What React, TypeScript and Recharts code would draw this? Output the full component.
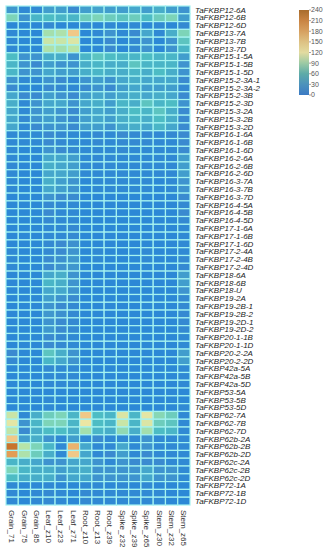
import { Scatter, ScatterChart, XAxis, YAxis } from "recharts";

const genes = [
  "TaFKBP12-6A", "TaFKBP12-6B", "TaFKBP12-6D", "TaFKBP13-7A", "TaFKBP13-7B", "TaFKBP13-7D",
  "TaFKBP15-1-5A", "TaFKBP15-1-5B", "TaFKBP15-1-5D", "TaFKBP15-2-3A-1", "TaFKBP15-2-3A-2",
  "TaFKBP15-2-3B", "TaFKBP15-2-3D", "TaFKBP15-3-2A", "TaFKBP15-3-2B", "TaFKBP15-3-2D",
  "TaFKBP16-1-6A", "TaFKBP16-1-6B", "TaFKBP16-1-6D", "TaFKBP16-2-6A", "TaFKBP16-2-6B",
  "TaFKBP16-2-6D", "TaFKBP16-3-7A", "TaFKBP16-3-7B", "TaFKBP16-3-7D", "TaFKBP16-4-5A",
  "TaFKBP16-4-5B", "TaFKBP16-4-5D", "TaFKBP17-1-6A", "TaFKBP17-1-6B", "TaFKBP17-1-6D",
  "TaFKBP17-2-4A", "TaFKBP17-2-4B", "TaFKBP17-2-4D", "TaFKBP18-6A", "TaFKBP18-6B", "TaFKBP18-U",
  "TaFKBP19-2A", "TaFKBP19-2B-1", "TaFKBP19-2B-2", "TaFKBP19-2D-1", "TaFKBP19-2D-2",
  "TaFKBP20-1-1B", "TaFKBP20-1-1D", "TaFKBP20-2-2A", "TaFKBP20-2-2D", "TaFKBP42a-5A",
  "TaFKBP42a-5B", "TaFKBP42a-5D", "TaFKBP53-5A", "TaFKBP53-5B", "TaFKBP53-5D", "TaFKBP62-7A",
  "TaFKBP62-7B", "TaFKBP62-7D", "TaFKBP62b-2A", "TaFKBP62b-2B", "TaFKBP62b-2D", "TaFKBP62c-2A",
  "TaFKBP62c-2B", "TaFKBP62c-2D", "TaFKBP72-1A", "TaFKBP72-1B", "TaFKBP72-1D",
];

const tissues = [
  "Grain_71", "Grain_75", "Grain_85", "Leaf_z10", "Leaf_z23", "Leaf_z71", "Root_z10", "Root_z13",
  "Root_z39", "Spike_z32", "Spike_z39", "Spike_z65", "Stem_z30", "Stem_z32", "Stem_z65",
];

// one line per gene, columns in the order of tissues
const expression = [
  [22, 10, 10, 25, 25, 15, 25, 28, 25, 25, 30, 25, 35, 25, 20],
  [60, 20, 40, 45, 40, 40, 55, 60, 55, 50, 55, 45, 55, 60, 25],
  [8, 8, 8, 12, 8, 8, 10, 8, 10, 8, 10, 8, 10, 8, 12],
  [10, 8, 8, 80, 85, 150, 8, 10, 20, 10, 15, 30, 10, 35, 60],
  [10, 8, 8, 100, 100, 110, 8, 8, 15, 8, 12, 20, 8, 20, 50],
  [10, 8, 8, 85, 80, 90, 8, 8, 15, 8, 12, 20, 8, 20, 40],
  [45, 20, 20, 35, 35, 20, 40, 50, 45, 40, 40, 45, 40, 40, 25],
  [40, 20, 15, 25, 20, 20, 35, 40, 35, 35, 50, 40, 40, 40, 20],
  [40, 20, 20, 30, 25, 25, 35, 40, 35, 35, 40, 35, 45, 35, 20],
  [20, 10, 10, 20, 15, 10, 20, 25, 20, 30, 35, 30, 30, 30, 15],
  [15, 8, 8, 15, 12, 10, 15, 20, 15, 25, 30, 25, 25, 25, 12],
  [30, 15, 15, 25, 20, 15, 25, 30, 25, 30, 35, 30, 35, 30, 15],
  [35, 10, 20, 30, 30, 20, 30, 35, 25, 40, 35, 50, 40, 45, 20],
  [30, 10, 20, 25, 20, 15, 25, 30, 25, 35, 45, 40, 50, 35, 15],
  [30, 12, 20, 25, 20, 15, 25, 30, 25, 35, 40, 35, 45, 35, 15],
  [30, 10, 15, 20, 20, 15, 25, 25, 20, 30, 35, 30, 40, 30, 15],
  [10, 10, 10, 15, 12, 10, 10, 12, 10, 15, 12, 12, 10, 12, 15],
  [10, 10, 10, 15, 12, 10, 10, 12, 10, 12, 12, 12, 10, 10, 15],
  [10, 8, 8, 20, 15, 12, 10, 10, 10, 12, 10, 10, 10, 10, 15],
  [10, 8, 8, 30, 30, 25, 10, 10, 10, 10, 10, 10, 10, 10, 25],
  [10, 8, 8, 35, 30, 25, 10, 10, 10, 10, 10, 10, 10, 10, 25],
  [10, 8, 8, 30, 30, 25, 10, 10, 10, 10, 10, 10, 10, 10, 25],
  [10, 8, 8, 35, 25, 20, 8, 10, 10, 10, 10, 10, 8, 10, 20],
  [10, 8, 8, 30, 25, 20, 8, 10, 10, 10, 10, 10, 8, 10, 20],
  [8, 8, 8, 20, 15, 15, 8, 8, 8, 8, 8, 8, 8, 8, 15],
  [8, 8, 8, 12, 10, 10, 8, 8, 8, 8, 8, 8, 8, 8, 12],
  [8, 8, 8, 15, 10, 10, 8, 8, 8, 8, 8, 8, 8, 8, 15],
  [8, 8, 8, 12, 10, 10, 8, 8, 8, 8, 8, 8, 8, 8, 12],
  [8, 8, 8, 10, 10, 12, 8, 8, 8, 8, 8, 8, 8, 8, 10],
  [8, 8, 8, 10, 10, 12, 8, 8, 8, 8, 8, 8, 8, 8, 10],
  [8, 8, 8, 12, 15, 18, 8, 8, 8, 8, 8, 8, 8, 8, 10],
  [10, 8, 8, 12, 15, 20, 8, 10, 8, 8, 8, 10, 8, 8, 10],
  [10, 8, 8, 15, 18, 22, 8, 10, 8, 8, 8, 10, 8, 8, 12],
  [10, 8, 8, 15, 20, 22, 8, 8, 8, 8, 8, 8, 8, 8, 12],
  [8, 8, 8, 30, 35, 20, 8, 8, 8, 8, 8, 8, 8, 8, 25],
  [8, 8, 8, 40, 35, 20, 8, 8, 8, 8, 8, 8, 8, 8, 25],
  [8, 8, 8, 30, 30, 20, 8, 8, 8, 8, 8, 8, 8, 8, 20],
  [8, 8, 8, 25, 20, 15, 8, 8, 8, 8, 8, 8, 8, 8, 12],
  [8, 8, 8, 20, 15, 12, 8, 8, 8, 8, 8, 8, 8, 8, 12],
  [8, 8, 8, 22, 18, 12, 8, 8, 8, 8, 8, 8, 8, 8, 12],
  [8, 8, 8, 20, 15, 12, 8, 8, 8, 8, 8, 8, 8, 8, 12],
  [8, 8, 8, 22, 15, 12, 8, 8, 8, 8, 8, 8, 8, 8, 12],
  [8, 8, 8, 15, 12, 10, 8, 8, 8, 8, 8, 8, 8, 8, 10],
  [8, 8, 8, 15, 12, 10, 8, 8, 8, 8, 8, 8, 8, 8, 10],
  [15, 8, 8, 50, 35, 20, 8, 8, 8, 8, 8, 8, 8, 8, 25],
  [12, 8, 8, 40, 30, 20, 8, 8, 8, 8, 8, 8, 8, 8, 25],
  [8, 8, 8, 12, 10, 10, 8, 8, 8, 8, 8, 8, 8, 8, 10],
  [8, 8, 8, 10, 10, 10, 8, 8, 8, 8, 8, 8, 8, 8, 10],
  [8, 8, 8, 10, 10, 10, 8, 8, 8, 8, 8, 8, 8, 8, 10],
  [8, 8, 8, 8, 8, 8, 8, 8, 8, 8, 8, 8, 8, 8, 8],
  [8, 8, 8, 10, 8, 8, 8, 8, 8, 8, 8, 8, 8, 8, 8],
  [8, 8, 8, 10, 8, 8, 8, 8, 8, 8, 8, 8, 8, 8, 10],
  [100, 10, 35, 55, 60, 40, 150, 45, 40, 110, 40, 115, 65, 55, 10],
  [115, 20, 40, 60, 60, 40, 120, 45, 40, 100, 40, 110, 55, 50, 10],
  [95, 15, 35, 45, 45, 35, 80, 40, 35, 70, 35, 80, 45, 40, 10],
  [150, 25, 35, 20, 10, 25, 10, 15, 10, 10, 10, 20, 10, 10, 10],
  [230, 90, 60, 40, 10, 170, 30, 10, 10, 30, 10, 20, 10, 10, 10],
  [190, 85, 55, 35, 10, 150, 30, 10, 15, 25, 10, 15, 10, 10, 10],
  [40, 35, 30, 20, 20, 30, 30, 20, 10, 20, 15, 15, 15, 10, 10],
  [60, 40, 35, 35, 25, 30, 35, 20, 20, 20, 20, 30, 20, 20, 10],
  [45, 35, 35, 35, 20, 30, 30, 20, 20, 20, 20, 30, 20, 20, 10],
  [10, 8, 8, 10, 8, 8, 10, 10, 8, 10, 8, 10, 8, 8, 8],
  [10, 8, 10, 12, 10, 8, 12, 10, 10, 10, 10, 10, 10, 8, 8],
  [10, 8, 10, 12, 10, 8, 12, 10, 10, 10, 10, 10, 10, 8, 8],
];

const legendTicks = [0, 30, 60, 90, 120, 150, 180, 210, 240];

const W = 327;
const H = 550;
const TOP = 6;
const LEFT = 6;
const PLOT_W = 184;
const PLOT_H = 499;
const Y_AXIS_W = W - LEFT - PLOT_W;
const X_AXIS_H = H - TOP - PLOT_H;
const CELL_W = PLOT_W / tissues.length;
const CELL_H = PLOT_H / genes.length;

const cellStops: [number, string][] = [
  [0, "#1c86dc"],
  [15, "#3a8ad0"],
  [30, "#45a6cc"],
  [45, "#4dbcc4"],
  [60, "#7dd4b8"],
  [90, "#b8e4a8"],
  [120, "#ece6a4"],
  [150, "#f0c888"],
  [180, "#e8a860"],
  [210, "#d88840"],
  [240, "#c06a24"],
];

const barStops: [number, string][] = [
  [0, "#3b7ac4"],
  [30, "#4c92bc"],
  [60, "#5eaba8"],
  [90, "#9ccaa4"],
  [120, "#e2dba0"],
  [150, "#ddc183"],
  [180, "#d6a060"],
  [210, "#c98443"],
  [240, "#a86c2c"],
];

function hex(c: string) {
  return [1, 3, 5].map((i) => parseInt(c.slice(i, i + 2), 16));
}

function colorFor(v: number) {
  for (let i = 1; i < cellStops.length; i++) {
    const [v1, c1] = cellStops[i];
    if (v <= v1) {
      const [v0, c0] = cellStops[i - 1];
      const t = (v - v0) / (v1 - v0);
      const a = hex(c0);
      const b = hex(c1);
      const m = a.map((x, k) => Math.round(x + (b[k] - x) * t));
      return `rgb(${m[0]},${m[1]},${m[2]})`;
    }
  }
  return cellStops[cellStops.length - 1][1];
}

const data = expression.flatMap((row, r) => row.map((v, c) => ({ x: c, y: r, v })));

const FONT = "'Liberation Sans', Arial, sans-serif";

function HeatCell(props: any) {
  const { cx, cy, payload } = props;
  return (
    <rect
      x={cx - CELL_W / 2}
      y={cy - CELL_H / 2}
      width={CELL_W}
      height={CELL_H}
      fill={colorFor(payload.v)}
      stroke="#a4f2f0"
      strokeWidth={1.2}
    />
  );
}

function GeneTick({ x, y, payload }: any) {
  return (
    <text x={x} y={y} dy="0.35em" fontSize={8} fontStyle="italic" fill="#222" fontFamily={FONT}>
      {genes[payload.value]}
    </text>
  );
}

function TissueTick({ x, y, payload }: any) {
  return (
    <text
      transform={`translate(${x},${y}) rotate(90)`}
      dy="0.35em"
      fontSize={8}
      fill="#333"
      fontFamily={FONT}
    >
      {tissues[payload.value]}
    </text>
  );
}

function ColorBar() {
  const x0 = 299;
  const y0 = 10;
  const bw = 10;
  const bh = 85;
  return (
    <svg width={W} height={H} style={{ position: "absolute", left: 0, top: 0, pointerEvents: "none" }}>
      <defs>
        <linearGradient id="cbar" x1="0" y1="1" x2="0" y2="0">
          {barStops.map(([v, c]) => (
            <stop key={v} offset={v / 240} stopColor={c} />
          ))}
        </linearGradient>
      </defs>
      <rect x={x0} y={y0} width={bw} height={bh} fill="url(#cbar)" />
      {legendTicks.map((t) => {
        const ty = y0 + bh - (t / 240) * bh;
        return (
          <g key={t}>
            <line x1={x0 + bw} x2={x0 + bw + 2} y1={ty} y2={ty} stroke="#666" strokeWidth={0.6} />
            <text x={x0 + bw + 2} y={ty} dy="0.35em" fontSize={7} fill="#555" fontFamily={FONT}>
              {t}
            </text>
          </g>
        );
      })}
    </svg>
  );
}

export default function App() {
  return (
    <div style={{ position: "absolute", left: 0, top: 0, width: W, height: H, background: "#fff" }}>
      <ScatterChart width={W} height={H} margin={{ top: TOP, right: 0, left: LEFT, bottom: 0 }}>
        <XAxis
          type="number"
          dataKey="x"
          domain={[-0.5, tissues.length - 0.5]}
          ticks={tissues.map((_, i) => i)}
          interval={0}
          height={X_AXIS_H}
          axisLine={false}
          tickLine={false}
          tickSize={3}
          tick={<TissueTick />}
        />
        <YAxis
          type="number"
          dataKey="y"
          orientation="right"
          reversed
          domain={[-0.5, genes.length - 0.5]}
          ticks={genes.map((_, i) => i)}
          interval={0}
          width={Y_AXIS_W}
          axisLine={false}
          tickLine={false}
          tickSize={3}
          tick={<GeneTick />}
        />
        <Scatter data={data} shape={<HeatCell />} isAnimationActive={false} />
      </ScatterChart>
      <ColorBar />
    </div>
  );
}
